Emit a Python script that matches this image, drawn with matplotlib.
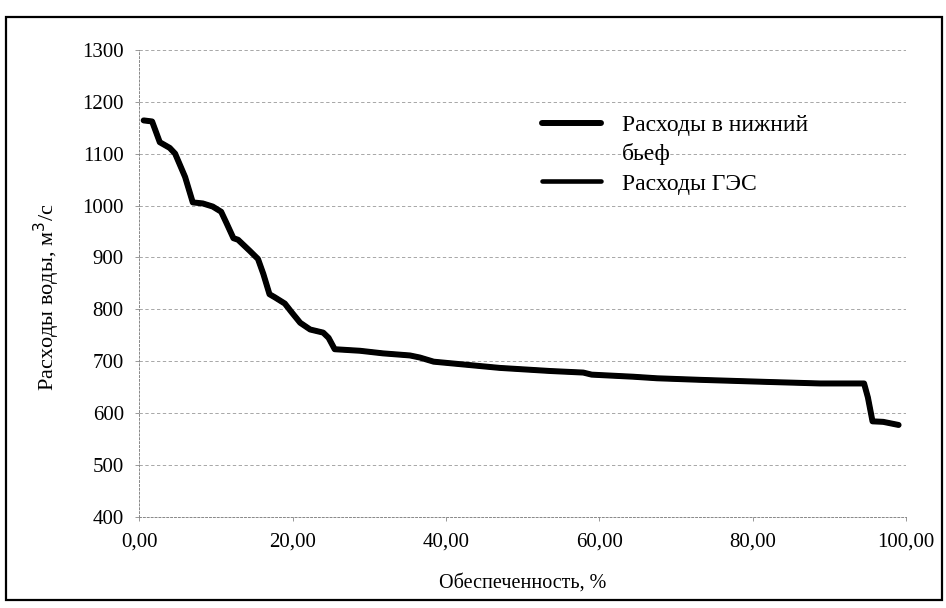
import matplotlib.pyplot as plt
import matplotlib.patches as patches
from matplotlib.lines import Line2D

plt.rcParams['font.family'] = ['Liberation Serif', 'DejaVu Serif']

# ── Data ──────────────────────────────────────────────────────────────────────
supply_pct = [0.6, 1.7, 2.7, 4.0, 4.7, 6.0, 7.0, 8.3, 9.6, 10.7, 11.4, 12.3,
              12.9, 14.4, 15.5, 16.2, 17.0, 17.7, 19.0, 19.9, 21.0, 22.3,
              24.0, 24.7, 25.5, 28.8, 31.8, 35.3, 36.6, 38.4, 42.7, 47.0,
              53.6, 57.9, 59.0, 64.4, 67.5, 73.1, 81.8, 88.8, 94.5, 95.0,
              95.6, 97.0, 99.0]
flow_tailwater = [1164, 1162, 1122, 1111, 1100, 1055, 1006, 1004, 998, 988,
                  966, 937, 934, 913, 897, 868, 829, 823, 811, 794, 774, 761,
                  755, 745, 723, 720, 715, 711, 707, 699, 693, 687, 681, 678,
                  674, 670, 667, 664, 660, 657, 657, 630, 584, 583, 577]
flow_hpp = list(flow_tailwater)  # both series coincide on the chart

series_labels = ['Расходы в нижний\nбьеф', 'Расходы ГЭС']
x_ticks = [0, 20, 40, 60, 80, 100]
y_ticks = list(range(400, 1301, 100))

# ── Figure ────────────────────────────────────────────────────────────────────
fig = plt.figure(figsize=(9.46, 6.08), dpi=100)
ax = fig.add_axes([0.147, 0.150, 0.811, 0.768])

l1, = ax.plot(supply_pct, flow_tailwater, color='black', lw=4.3,
              solid_joinstyle='round', solid_capstyle='round', zorder=3)
l2, = ax.plot(supply_pct, flow_hpp, color='black', lw=3.3,
              solid_joinstyle='round', solid_capstyle='round', zorder=3)

ax.set_xlim(0, 100)
ax.set_ylim(400, 1300)
ax.set_xticks(x_ticks)
ax.set_xticklabels([f'{v:.2f}'.replace('.', ',') for v in x_ticks], fontsize=15)
ax.set_yticks(y_ticks)
ax.set_yticklabels([str(v) for v in y_ticks], fontsize=15)
ax.tick_params(axis='both', length=3, width=0.6, color='#888888', pad=8)

ax.yaxis.grid(True, linestyle=(0, (4, 3)), color='#999999', lw=0.6, zorder=0)
for side in ['top', 'right']:
    ax.spines[side].set_visible(False)
for side in ['left', 'bottom']:
    ax.spines[side].set_linestyle((0, (2, 2)))
    ax.spines[side].set_color('#888888')
    ax.spines[side].set_linewidth(0.7)

ax.set_xlabel('Обеспеченность, %', fontsize=14.5, labelpad=16)
ax.set_ylabel('Расходы воды, м$^3$/с', fontsize=16)
ax.yaxis.set_label_coords(-0.100, 0.47)

# legend: first label wraps onto a second row, handle stays on the first row
first, second = series_labels[0].split('\n')
blank = Line2D([], [], color='none')
ax.legend([l1, blank, l2], [first, second, series_labels[1]],
          loc='upper left', bbox_to_anchor=(0.513, 0.882), frameon=False,
          fontsize=17, handlelength=2.5, handletextpad=0.9, labelspacing=0.32,
          borderaxespad=0)

# ── Outer frame ───────────────────────────────────────────────────────────────
frame = patches.Rectangle((6 / 946, 8 / 608), 936 / 946, 583 / 608,
                          transform=fig.transFigure, fill=False,
                          edgecolor='black', lw=1.6)
fig.patches.append(frame)

fig.savefig('out.png', dpi=100, facecolor='white')
